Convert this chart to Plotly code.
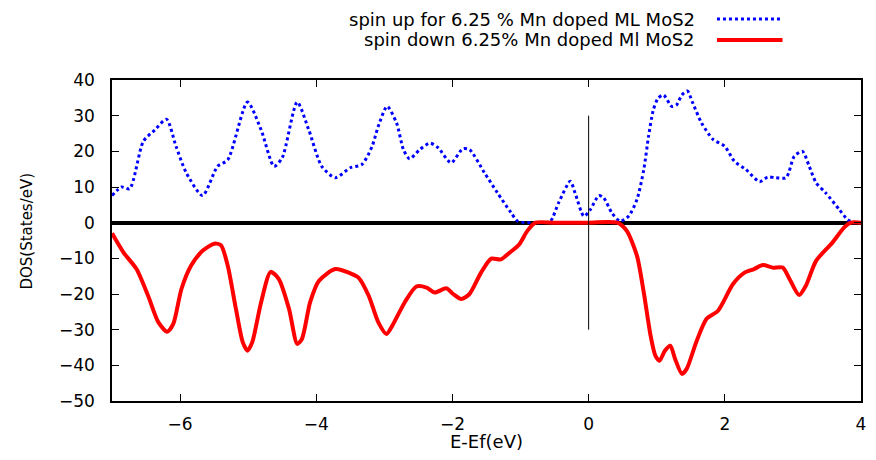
import plotly.graph_objects as go

# ---------------- data ----------------
up_x = [-7.0, -6.86, -6.74, -6.54, -6.37, -6.2, -6.06, -5.91, -5.67, -5.45, -5.3,
        -5.01, -4.81, -4.62, -4.5, -4.28, -4.11, -3.92, -3.72, -3.5, -3.33, -3.18,
        -3.09, -2.96, -2.82, -2.72, -2.63, -2.48, -2.33, -2.21, -2.02, -1.85, -1.75,
        -1.53, -1.34, -1.14, -1.04, -0.85, -0.65, -0.56, -0.44, -0.27, -0.2, -0.07,
        0.02, 0.15, 0.22, 0.34, 0.46, 0.59, 0.71, 0.81, 0.88, 0.95, 1.02, 1.1, 1.22,
        1.29, 1.37, 1.45, 1.53, 1.66, 1.83, 2.0, 2.14, 2.31, 2.51, 2.63, 2.75, 2.9,
        3.02, 3.14, 3.24, 3.34, 3.48, 3.68, 3.8, 3.9, 4.0]
up_y = [7.6, 10.0, 9.5, 22.8, 26.0, 29.0, 21.4, 14.0, 7.6, 15.8, 17.6,
        33.8, 26.0, 15.8, 18.2, 33.8, 26.0, 15.8, 12.6, 15.4, 16.3, 21.4,
        27.0, 32.6, 27.9, 20.5, 17.9, 20.5, 22.3, 21.0, 16.8, 20.7, 20.5,
        14.0, 8.4, 2.8, 0.4, 0.0, 0.0, 0.4, 5.6, 11.6, 8.4, 1.8,
        3.5, 7.6, 7.0, 2.8, 0.4, 1.9, 6.5, 14.9, 24.2, 31.6, 34.9, 35.8, 32.6,
        33.0, 35.8, 36.9, 33.5, 27.9, 23.3, 21.4, 17.2, 14.9, 11.5, 12.8, 12.6, 12.6,
        18.6, 20.0, 15.8, 11.2, 8.4, 3.7, 0.9, 0.0, 0.0]

down_x = [-7.0, -6.83, -6.64, -6.47, -6.32, -6.19, -6.1, -5.98, -5.84, -5.67, -5.5,
          -5.4, -5.3, -5.18, -5.08, -5.01, -4.94, -4.81, -4.67, -4.55, -4.4, -4.28,
          -4.21, -4.09, -3.96, -3.72, -3.5, -3.38, -3.23, -3.09, -2.97, -2.87, -2.7,
          -2.53, -2.38, -2.26, -2.09, -1.99, -1.87, -1.75, -1.58, -1.43, -1.29, -1.16,
          -1.02, -0.9, -0.78, -0.5, 0.0, 0.42, 0.56, 0.71, 0.81, 0.91, 0.98, 1.04,
          1.12, 1.2, 1.27, 1.37, 1.44, 1.58, 1.73, 1.9, 2.12, 2.29, 2.43, 2.56, 2.7,
          2.85, 2.95, 3.09, 3.19, 3.34, 3.58, 3.75, 3.85, 4.0]
down_y = [-3.0, -8.4, -13.0, -20.5, -27.9, -30.6, -28.4, -18.6, -12.1, -7.9, -5.9,
          -6.3, -12.1, -24.2, -33.5, -35.9, -33.5, -22.3, -13.8, -15.8, -24.2, -34.0,
          -32.6, -22.3, -16.3, -13.0, -14.2, -15.4, -20.5, -27.9, -31.2, -28.4, -22.3,
          -17.9, -18.2, -19.6, -18.4, -20.0, -21.4, -20.0, -14.0, -10.1, -10.3, -8.4,
          -6.1, -2.3, 0.0, 0.0, 0.0, 0.0, -2.3, -9.3, -19.6, -31.7, -37.3, -38.7,
          -35.9, -34.5, -38.2, -42.4, -41.0, -33.5, -27.0, -24.7, -17.2, -14.0, -13.0, -11.9, -12.6,
          -12.6, -15.8, -20.3, -17.7, -10.7, -5.6, -1.4, 0.0, 0.0]

up_label = "spin up for 6.25 % Mn doped ML MoS2"
down_label = "spin down 6.25% Mn doped Ml MoS2"
x_title = "E-Ef(eV)"
y_title = "DOS(States/eV)"
fermi_x = 0.0
fermi_y_span = [-30, 30]
x_range = [-7, 4]
y_range = [-50, 40]

FONT = "DejaVu Sans"

fig = go.Figure()
fig.add_trace(go.Scatter(x=up_x, y=up_y, mode="lines", name=up_label,
                         line=dict(color="#0000ff", width=3, dash="dot",
                                   shape="spline", smoothing=0.7)))
fig.add_trace(go.Scatter(x=down_x, y=down_y, mode="lines", name=down_label,
                         line=dict(color="#ff0000", width=4,
                                   shape="spline", smoothing=0.7)))
fig.add_trace(go.Scatter(x=[fermi_x, fermi_x], y=fermi_y_span, mode="lines",
                         line=dict(color="black", width=1), showlegend=False,
                         hoverinfo="skip"))

axis_common = dict(showgrid=False, showline=True, linecolor="black", linewidth=1.5,
                   ticks="inside", ticklen=7, tickwidth=1, tickcolor="black",
                   mirror="ticks",
                   tickfont=dict(family=FONT, size=17, color="black"))

fig.update_xaxes(range=x_range, dtick=2, tick0=0, zeroline=False,
                 ticklabelstandoff=7, **axis_common)
fig.update_yaxes(range=y_range, dtick=10, tick0=0, zeroline=True,
                 zerolinecolor="black", zerolinewidth=4,
                 ticklabelstandoff=12, **axis_common)

L, R, T, B = 112, 10, 80, 59
W, H = 876, 460
pw, ph = W - L - R, H - T - B


def px_to_paper(px, py):
    return (px - L) / pw, (H - B - py) / ph


annotations = []
shapes = []
# legend (gnuplot style: right-aligned text, sample at right)
for label, py, color, width, dash in [(up_label, 19, "#0000ff", 3, "dot"),
                                      (down_label, 40, "#ff0000", 4, "solid")]:
    tx, ty = px_to_paper(701, py)
    annotations.append(dict(x=tx, y=ty, xref="paper", yref="paper", text=label,
                            showarrow=False, xanchor="right", yanchor="middle",
                            font=dict(family=FONT, size=18, color="black")))
    x0, y0 = px_to_paper(721, py)
    x1, _ = px_to_paper(787, py)
    shapes.append(dict(type="line", xref="paper", yref="paper", x0=x0, x1=x1,
                       y0=y0, y1=y0, line=dict(color=color, width=width, dash=dash)))

ax, ay = px_to_paper(489, 442)
annotations.append(dict(x=ax, y=ay, xref="paper", yref="paper", text=x_title,
                        showarrow=False, xanchor="center", yanchor="middle",
                        font=dict(family=FONT, size=18, color="black")))
bx, by = px_to_paper(26, 231)
annotations.append(dict(x=bx, y=by, xref="paper", yref="paper", text=y_title,
                        showarrow=False, xanchor="center", yanchor="middle",
                        textangle=-90,
                        font=dict(family=FONT, size=15, color="black")))

fig.update_layout(width=W, height=H, margin=dict(l=L, r=R, t=T, b=B),
                  paper_bgcolor="white", plot_bgcolor="white", showlegend=False,
                  annotations=annotations, shapes=shapes)

fig.write_html("out.html")
